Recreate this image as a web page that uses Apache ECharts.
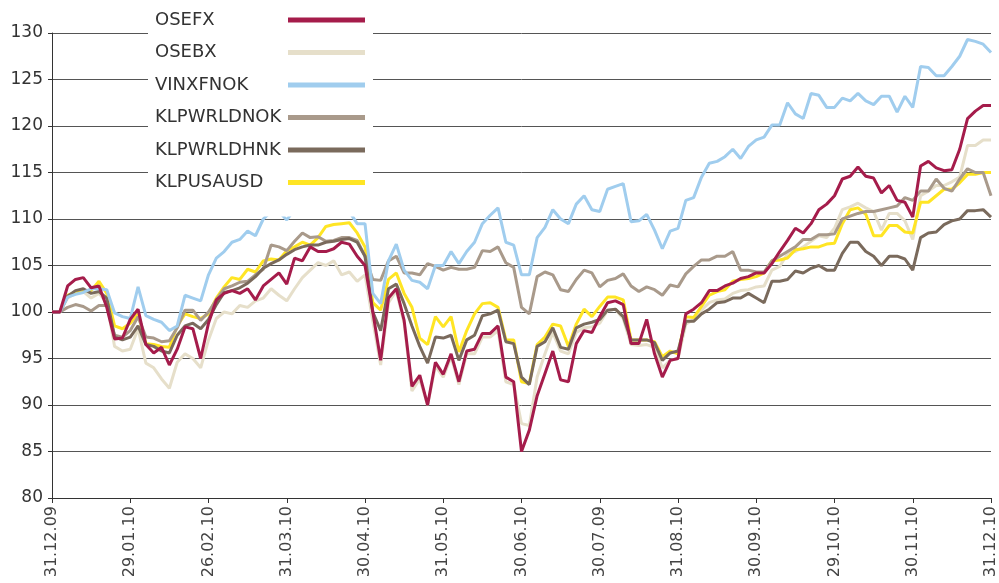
<!DOCTYPE html>
<html>
<head>
<meta charset="utf-8">
<script src="https://cdn.jsdelivr.net/npm/echarts@6/dist/echarts.min.js"></script>
<style>
  html, body { margin: 0; padding: 0; background: #fff; }
  #chart { width: 999px; height: 583px; }
</style>
</head>
<body>
<div id="chart"></div>
<script>
// tick labels, one every 10 points (the original says 30.07.09, kept as is)
const tickLabels = ['31.12.09', '29.01.10', '26.02.10', '31.03.10', '30.04.10', '31.05.10',
  '30.06.10', '30.07.09', '31.08.10', '30.09.10', '29.10.10', '30.11.10', '31.12.10'];

const osefx = [100, 100, 102.8, 103.5, 103.7, 102.6, 102.8, 100.5, 97.1, 97.2, 99.2, 100.3, 96.5, 95.6, 96.2, 94.3, 96, 98.4, 98.2, 95, 98.8,
  101.3, 102, 102.3, 102, 102.5, 101.3, 102.8, 103.5, 104.2, 103, 105.8, 105.5, 107, 106.5, 106.5, 106.8, 107.5, 107.3, 106, 105,
  100, 94.8, 101.5, 102.5, 99.1, 92, 93.2, 90, 94.6, 93.3, 95.5, 92.5, 95.8, 96, 97.7, 97.7, 98.5, 93, 92.5, 85, 87.3,
  91, 93.4, 95.8, 92.7, 92.5, 96.6, 98, 97.8, 99.5, 101, 101.2, 100.8, 96.6, 96.6, 99.2, 95.5, 93, 94.8, 95, 99.8,
  100.3, 101, 102.3, 102.3, 102.8, 103.1, 103.6, 103.8, 104.2, 104.2, 105.2, 106.5, 107.7, 109, 108.5, 109.5, 111, 111.6, 112.5, 114.3, 114.6,
  115.6, 114.6, 114.4, 112.8, 113.6, 112, 111.8, 110.2, 115.7, 116.2, 115.5, 115.2, 115.3, 117.5, 120.8, 121.6, 122.2, 122.2];

const osebx = [100, 100, 101.5, 102, 102.2, 101.5, 102, 101, 96.3, 95.8, 96, 98.2, 94.5, 94, 92.8, 91.8, 94.6, 95.5, 95, 94, 97,
  99.3, 100, 99.8, 100.7, 100.5, 101.2, 101.5, 102.5, 101.8, 101.2, 102.5, 103.7, 104.5, 105.3, 105, 105.5, 104, 104.3, 103.3, 104,
  99, 94.3, 101, 102.3, 98.8, 91.5, 92.8, 90, 94.2, 93, 95.2, 92.2, 95.5, 95.5, 97.3, 97.3, 98, 92.5, 92.2, 88, 87.8,
  93, 95.5, 97.8, 95.8, 95.5, 97.8, 98.3, 98.4, 98.8, 100.2, 100.3, 99.3, 96.5, 96.4, 96.5, 96.2, 94, 94.8, 95, 98.7,
  99.2, 100.2, 101, 101.3, 101.4, 102, 102.3, 102.4, 102.7, 102.8, 104.5, 104.9, 106.3, 106.5, 107, 107.6, 108.2, 108, 109, 111, 111.3,
  111.7, 111.2, 110.8, 108.8, 110.6, 110.6, 109.8, 107.8, 112.5, 113, 113.6, 113.6, 114, 114.5, 117.9, 117.9, 118.5, 118.5];

const vinxfnok = [100, 100, 101.6, 101.9, 102.1, 102.5, 102.5, 102.4, 99.9, 99.5, 99.3, 102.7, 99.6, 99.2, 98.9, 98, 98.5, 101.8, 101.5, 101.2, 104,
  105.8, 106.5, 107.5, 107.8, 108.7, 108.2, 110, 110.8, 110.8, 109.9, 111, 111.5, 111.5, 112, 111.5, 111.8, 111.5, 110.8, 109.5, 109.5,
  102, 100.9, 105.5, 107.3, 104.5, 103.4, 103.2, 102.5, 105, 105, 106.5, 105.2, 106.5, 107.5, 109.5, 110.4, 111.2, 107.5, 107.2, 104, 104,
  108, 109.1, 111, 110, 109.5, 111.6, 112.5, 111, 110.8, 113.2, 113.5, 113.8, 109.7, 109.8, 110.5, 108.8, 106.8, 108.7, 109, 112,
  112.3, 114.5, 116, 116.2, 116.7, 117.5, 116.5, 117.8, 118.5, 118.8, 120.1, 120.1, 122.5, 121.3, 120.8, 123.5, 123.3, 122, 122, 123, 122.7,
  123.5, 122.7, 122.3, 123.2, 123.2, 121.5, 123.2, 122, 126.4, 126.3, 125.4, 125.4, 126.4, 127.5, 129.3, 129.1, 128.8, 127.9];

const klpwrldnok = [100, 100, 100.5, 100.8, 100.6, 100.1, 100.7, 100.7, 97.5, 97.3, 98, 99.5, 97.3, 97.2, 96.8, 96.9, 98.3, 100.2, 100.2, 99.1, 100,
  101.3, 102.5, 102.8, 103.2, 103.3, 104, 104.6, 107.2, 107, 106.6, 107.6, 108.5, 108, 108.1, 107.6, 107.7, 108, 108, 107.7, 106,
  103.5, 103.4, 105.5, 106, 104.2, 104.2, 104, 105.2, 104.9, 104.5, 104.8, 104.6, 104.6, 104.8, 106.6, 106.5, 107, 105.3, 104.8, 100.5, 99.8,
  103.8, 104.3, 104, 102.4, 102.2, 103.5, 104.5, 104.2, 102.7, 103.4, 103.6, 104.1, 102.8, 102.2, 102.7, 102.4, 101.8, 102.9, 102.7, 104.1,
  104.9, 105.6, 105.6, 106, 106, 106.5, 104.5, 104.5, 104.3, 104.3, 105.5, 106, 106.5, 107, 107.8, 107.8, 108.3, 108.3, 108.4, 110, 110.3,
  110.6, 110.8, 110.8, 111, 111.2, 111.4, 112.3, 112, 113, 113, 114.3, 113.3, 113, 114.3, 115.4, 115, 115, 112.5];

const klpwrldhnk = [100, 100, 101.7, 102.3, 102.5, 102, 102.2, 101.5, 97.3, 97, 97.3, 98.5, 96.5, 96.3, 95.8, 95.6, 97.5, 98.5, 98.8, 98.2, 99.2,
  100.8, 102.1, 102.3, 102.6, 103.1, 103.8, 104.7, 105.2, 105.6, 106.2, 106.7, 107, 107.2, 107.2, 107.5, 107.6, 107.8, 107.9, 107.5, 106,
  100, 98, 102.5, 103, 100.9, 98.5, 96.3, 94.5, 97.3, 97.2, 97.5, 94.8, 97, 97.5, 99.6, 99.8, 100.2, 96.8, 96.6, 93, 92.2,
  96.3, 96.8, 98.3, 96.2, 96, 98.3, 98.7, 98.9, 99.2, 100.2, 100.3, 99.5, 97, 97, 97, 96.7, 94.8, 95.6, 95.8, 99,
  99, 99.8, 100.3, 101, 101.1, 101.5, 101.5, 102, 101.5, 101, 103.3, 103.3, 103.5, 104.4, 104.2, 104.7, 105, 104.5, 104.5, 106.3, 107.5,
  107.5, 106.5, 106, 105, 106, 106, 105.7, 104.5, 108, 108.5, 108.6, 109.4, 109.8, 110, 110.9, 110.9, 111, 110.2];

const klpusausd = [100, 100, 101.8, 102.1, 102.2, 102.3, 103.3, 102, 98.5, 98.2, 98.8, 99.8, 96.6, 96.5, 96.3, 96.2, 98.5, 99.8, 99.5, 99.3, 99.8,
  101.5, 102.7, 103.7, 103.5, 104.6, 104.3, 105.5, 105.7, 105.6, 106.6, 107, 107.5, 107.2, 108, 109.2, 109.4, 109.5, 109.6, 108.5, 107,
  101, 100.2, 103.5, 104.2, 102, 100.5, 97.2, 96.5, 99.5, 98.4, 99.5, 95.7, 98, 99.8, 100.9, 101, 100.5, 97, 97, 92.5, 92.3,
  96.5, 97.3, 98.7, 98.5, 96.3, 98.7, 100.3, 99.5, 100.6, 101.6, 101.6, 101.3, 97, 97, 97, 96.8, 95.2, 95.8, 95.5, 99.5,
  99.4, 100.6, 101.8, 102.2, 102.4, 103.3, 103.5, 103.6, 103.8, 104.2, 105.5, 105.6, 105.8, 106.7, 106.8, 107, 107, 107.3, 107.4, 109.5, 111,
  111.2, 110.5, 108.2, 108.2, 109.3, 109.3, 108.6, 108.5, 111.8, 111.8, 112.5, 113.2, 113.2, 113.9, 114.8, 114.8, 115, 115];

const seriesNames = ['OSEFX', 'OSEBX', 'VINXFNOK', 'KLPWRLDNOK', 'KLPWRLDHNK', 'KLPUSAUSD'];
const categories = osefx.map((_, i) => String(i));

const chart = echarts.init(document.getElementById('chart'));

const makeLine = (name, data, color) => ({
  name: name,
  type: 'line',
  data: data,
  showSymbol: false,
  symbol: 'none',
  color: color,
  lineStyle: { width: 3, color: color },
  emphasis: { disabled: true },
});

chart.setOption({
  animation: false,
  textStyle: { fontFamily: 'DejaVu Sans' },
  grid: { left: 52, right: 8, top: 33, bottom: 85 },
  legend: {
    data: seriesNames,
    orient: 'vertical',
    left: 148,
    top: 0,
    align: 'right',
    icon: 'rect',
    itemWidth: 77,
    itemHeight: 5,
    itemGap: 10.5,
    padding: [9, 8, 23, 7],
    backgroundColor: '#fff',
    selectedMode: false,
    // fixed-width text box so the swatches line up on the right
    formatter: (name) => '{n|' + name + '}',
    textStyle: {
      fontSize: 18,
      color: '#333',
      lineHeight: 22,
      rich: { n: { width: 128, align: 'left', fontSize: 18, color: '#333', lineHeight: 22 } },
    },
  },
  xAxis: {
    type: 'category',
    data: categories,
    boundaryGap: false,
    axisLine: { lineStyle: { color: '#333', width: 1 } },
    axisTick: { interval: 9, length: 5, lineStyle: { color: '#333' } },
    axisLabel: {
      interval: 9,
      rotate: 90,
      fontSize: 16,
      color: '#444',
      margin: 8,
      formatter: (v, idx) => tickLabels[idx / 10] || '',
    },
    splitLine: { show: false },
  },
  yAxis: {
    type: 'value',
    min: 80,
    max: 130,
    interval: 5,
    axisLine: { show: true, lineStyle: { color: '#333', width: 1 } },
    axisTick: { show: true, length: 4, lineStyle: { color: '#333' } },
    axisLabel: { fontSize: 17, color: '#333', margin: 9 },
    splitLine: { lineStyle: { color: '#555', width: 1 } },
  },
  series: [
    makeLine('OSEBX', osebx, '#e6dfca'),
    makeLine('KLPUSAUSD', klpusausd, '#ffe524'),
    makeLine('KLPWRLDNOK', klpwrldnok, '#a99a8b'),
    makeLine('KLPWRLDHNK', klpwrldhnk, '#7a6a5c'),
    makeLine('VINXFNOK', vinxfnok, '#a0cdee'),
    makeLine('OSEFX', osefx, '#a51c4b'),
  ],
});
</script>
</body>
</html>
